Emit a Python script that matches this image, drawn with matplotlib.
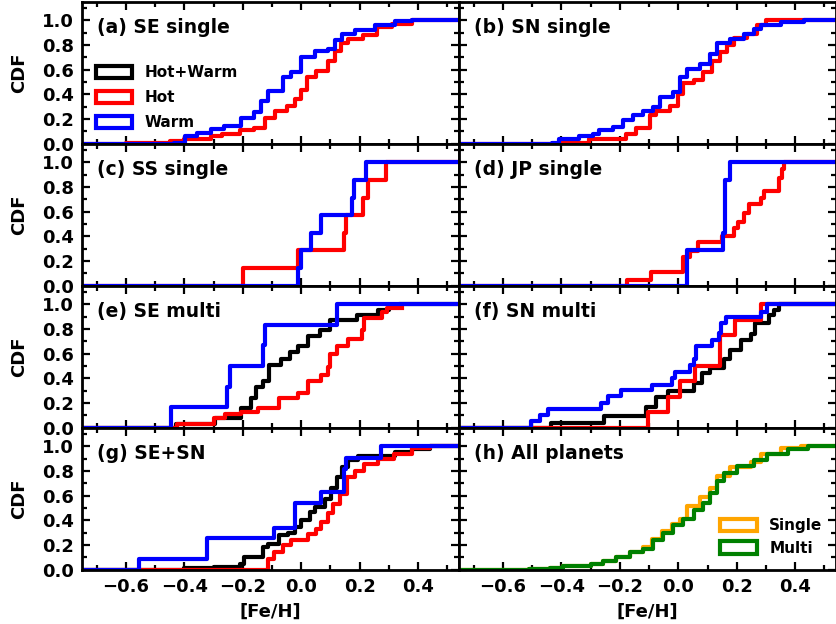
import matplotlib
matplotlib.use("Agg")
import matplotlib.pyplot as plt
from matplotlib.patches import Patch
from matplotlib.ticker import MultipleLocator

plt.rcParams['font.family'] = ['DejaVu Sans']
plt.rcParams['font.weight'] = 'bold'
plt.rcParams['axes.labelweight'] = 'bold'
plt.rcParams['font.size'] = 13

# ---- data: step positions ([Fe/H]) and CDF value after each step ----
# (a) SE single
a_hot_x = [-0.60, -0.45, -0.40, -0.31, -0.27, -0.21, -0.16, -0.125, -0.09, -0.05, -0.02, 0.00, 0.02, 0.05, 0.09, 0.115, 0.135, 0.16, 0.21, 0.26, 0.31, 0.38]
a_hot_y = [0.005, 0.02, 0.04, 0.06, 0.08, 0.11, 0.13, 0.21, 0.27, 0.31, 0.36, 0.44, 0.54, 0.59, 0.67, 0.75, 0.82, 0.85, 0.88, 0.95, 0.97, 1.0]
a_warm_x = [-0.437, -0.397, -0.356, -0.31, -0.264, -0.207, -0.161, -0.138, -0.115, -0.063, -0.034, 0.0, 0.046, 0.092, 0.115, 0.138, 0.184, 0.253, 0.322, 0.38]
a_warm_y = [0.01, 0.065, 0.09, 0.12, 0.146, 0.21, 0.255, 0.35, 0.43, 0.54, 0.58, 0.70, 0.75, 0.77, 0.84, 0.89, 0.92, 0.96, 0.995, 1.0]

# (b) SN single
b_hot_x = [-0.397, -0.305, -0.178, -0.144, -0.098, -0.075, -0.029, 0.0, 0.017, 0.052, 0.086, 0.115, 0.144, 0.167, 0.19, 0.236, 0.27, 0.299]
b_hot_y = [0.01, 0.04, 0.08, 0.13, 0.23, 0.27, 0.31, 0.40, 0.49, 0.52, 0.58, 0.67, 0.74, 0.80, 0.86, 0.89, 0.96, 1.0]
b_warm_x = [-0.431, -0.408, -0.339, -0.293, -0.27, -0.224, -0.19, -0.155, -0.121, -0.086, -0.063, -0.017, 0.006, 0.029, 0.075, 0.11, 0.132, 0.178, 0.224, 0.259, 0.282, 0.351, 0.431]
b_warm_y = [0.01, 0.04, 0.06, 0.08, 0.11, 0.14, 0.19, 0.23, 0.27, 0.30, 0.38, 0.42, 0.54, 0.61, 0.65, 0.73, 0.82, 0.85, 0.89, 0.93, 0.96, 0.985, 1.0]

# (c) SS single
c_hot_x = [-0.20, -0.01, 0.145, 0.152, 0.21, 0.23, 0.29]
c_hot_y = [0.143, 0.286, 0.429, 0.571, 0.714, 0.857, 1.0]
c_warm_x = [-0.012, -0.002, 0.032, 0.069, 0.172, 0.182, 0.22]
c_warm_y = [0.143, 0.286, 0.429, 0.571, 0.714, 0.857, 1.0]

# (d) JP single
d_hot_x = [-0.176, -0.092, 0.017, 0.04, 0.069, 0.149, 0.19, 0.205, 0.224, 0.241, 0.282, 0.293, 0.345, 0.356, 0.36]
d_hot_y = [0.05, 0.11, 0.23, 0.28, 0.355, 0.40, 0.47, 0.52, 0.59, 0.66, 0.71, 0.77, 0.87, 0.95, 1.0]
d_warm_x = [0.029, 0.153, 0.16, 0.178]
d_warm_y = [0.286, 0.429, 0.857, 1.0]

# (e) SE multi
e_all_x = [-0.43, -0.295, -0.207, -0.172, -0.155, -0.132, -0.109, -0.069, -0.04, -0.011, 0.023, 0.063, 0.098, 0.19, 0.264, 0.30, 0.335]
e_all_y = [0.03, 0.08, 0.16, 0.245, 0.33, 0.38, 0.505, 0.56, 0.61, 0.66, 0.74, 0.79, 0.87, 0.915, 0.95, 0.975, 1.0]
e_hot_x = [-0.425, -0.30, -0.26, -0.207, -0.149, -0.075, -0.011, 0.023, 0.069, 0.092, 0.10, 0.121, 0.161, 0.207, 0.213, 0.276, 0.293, 0.345]
e_hot_y = [0.033, 0.077, 0.115, 0.13, 0.16, 0.245, 0.28, 0.38, 0.43, 0.49, 0.60, 0.66, 0.72, 0.79, 0.89, 0.94, 0.97, 0.97]
e_warm_x = [-0.445, -0.253, -0.245, -0.132, -0.125, 0.121]
e_warm_y = [0.167, 0.333, 0.50, 0.667, 0.833, 1.0]

# (f) SN multi
f_all_x = [-0.437, -0.253, -0.109, -0.078, -0.034, 0.052, 0.08, 0.11, 0.155, 0.178, 0.213, 0.247, 0.264, 0.31, 0.328, 0.345]
f_all_y = [0.04, 0.095, 0.165, 0.25, 0.30, 0.36, 0.44, 0.48, 0.56, 0.63, 0.71, 0.76, 0.85, 0.915, 0.955, 1.0]
f_hot_x = [-0.103, -0.034, 0.006, 0.057, 0.144, 0.195, 0.282]
f_hot_y = [0.125, 0.25, 0.375, 0.50, 0.75, 0.875, 1.0]
f_warm_x = [-0.503, -0.474, -0.445, -0.264, -0.241, -0.195, -0.091, -0.022, -0.01, 0.04, 0.055, 0.061, 0.115, 0.138, 0.147, 0.164, 0.282, 0.305]
f_warm_y = [0.055, 0.10, 0.15, 0.20, 0.26, 0.305, 0.35, 0.40, 0.45, 0.505, 0.56, 0.66, 0.71, 0.77, 0.85, 0.90, 0.94, 1.0]

# (g) SE+SN
g_all_x = [-0.40, -0.30, -0.21, -0.195, -0.132, -0.115, -0.075, -0.046, -0.023, 0.0, 0.029, 0.046, 0.08, 0.103, 0.121, 0.138, 0.161, 0.195, 0.322, 0.38, 0.44]
g_all_y = [0.01, 0.025, 0.05, 0.10, 0.18, 0.21, 0.28, 0.30, 0.35, 0.40, 0.47, 0.51, 0.57, 0.66, 0.75, 0.83, 0.885, 0.925, 0.95, 0.98, 1.0]
g_hot_x = [-0.113, -0.092, -0.063, -0.034, 0.023, 0.052, 0.069, 0.092, 0.109, 0.132, 0.155, 0.184, 0.213, 0.264, 0.316, 0.38, 0.44]
g_hot_y = [0.09, 0.14, 0.20, 0.24, 0.29, 0.33, 0.39, 0.46, 0.53, 0.61, 0.75, 0.80, 0.857, 0.90, 0.94, 0.99, 1.0]
g_warm_x = [-0.555, -0.322, -0.092, -0.023, 0.069, 0.147, 0.152, 0.273]
g_warm_y = [0.09, 0.256, 0.34, 0.54, 0.63, 0.815, 0.906, 1.0]

# (h) all planets
h_single_x = [-0.51, -0.44, -0.394, -0.30, -0.259, -0.213, -0.167, -0.121, -0.09, -0.055, -0.02, 0.006, 0.029, 0.075, 0.11, 0.132, 0.178, 0.247, 0.282, 0.351, 0.42]
h_single_y = [0.005, 0.016, 0.03, 0.05, 0.07, 0.10, 0.14, 0.18, 0.25, 0.31, 0.37, 0.41, 0.52, 0.59, 0.66, 0.76, 0.83, 0.875, 0.94, 0.985, 1.0]
h_multi_x = [-0.51, -0.44, -0.394, -0.30, -0.259, -0.213, -0.167, -0.121, -0.086, -0.052, -0.017, 0.017, 0.052, 0.086, 0.11, 0.132, 0.155, 0.201, 0.259, 0.305, 0.374, 0.443]
h_multi_y = [0.005, 0.016, 0.03, 0.05, 0.07, 0.10, 0.14, 0.17, 0.24, 0.30, 0.36, 0.41, 0.48, 0.54, 0.62, 0.72, 0.78, 0.84, 0.885, 0.94, 0.98, 1.0]

labels = ['(a) SE single', '(b) SN single', '(c) SS single', '(d) JP single',
          '(e) SE multi', '(f) SN multi', '(g) SE+SN', '(h) All planets']

panels = [
    [('red', a_hot_x, a_hot_y), ('blue', a_warm_x, a_warm_y)],
    [('red', b_hot_x, b_hot_y), ('blue', b_warm_x, b_warm_y)],
    [('red', c_hot_x, c_hot_y), ('blue', c_warm_x, c_warm_y)],
    [('red', d_hot_x, d_hot_y), ('blue', d_warm_x, d_warm_y)],
    [('black', e_all_x, e_all_y), ('red', e_hot_x, e_hot_y), ('blue', e_warm_x, e_warm_y)],
    [('black', f_all_x, f_all_y), ('red', f_hot_x, f_hot_y), ('blue', f_warm_x, f_warm_y)],
    [('black', g_all_x, g_all_y), ('red', g_hot_x, g_hot_y), ('blue', g_warm_x, g_warm_y)],
    [('orange', h_single_x, h_single_y), ('green', h_multi_x, h_multi_y)],
]

xmin, xmax = -0.75, 0.54


def draw_cdf(ax, color, xs, ys):
    # pad with zero on the left; run on to the right edge once the CDF hits 1
    px = [xmin - 0.1] + list(xs)
    py = [0.0] + list(ys)
    if ys[-1] >= 1.0:
        px.append(xmax + 0.1)
        py.append(ys[-1])
    ax.step(px, py, where='post', color=color, lw=3)


fig, axes = plt.subplots(4, 2, sharex=True, sharey=True, figsize=(8.37, 6.24), dpi=100)
fig.subplots_adjust(left=0.098, right=0.999, top=0.997, bottom=0.087, wspace=0, hspace=0)

for i, ax in enumerate(axes.flat):
    for color, xs, ys in panels[i]:
        draw_cdf(ax, color, xs, ys)
    ax.text(0.04, 0.82, labels[i], transform=ax.transAxes, fontsize=13.5,
            fontweight='bold', va='center', ha='left')
    ax.set_xlim(xmin, xmax)
    ax.set_ylim(0, 1.15)
    ax.xaxis.set_major_locator(MultipleLocator(0.2))
    ax.xaxis.set_minor_locator(MultipleLocator(0.1))
    ax.yaxis.set_major_locator(MultipleLocator(0.2))
    ax.yaxis.set_minor_locator(MultipleLocator(0.1))
    ax.tick_params(which='both', direction='in', top=True, right=True, width=1.6)
    ax.tick_params(which='major', length=6, labelsize=13, pad=6)
    ax.tick_params(which='minor', length=3.5)
    for sp in ax.spines.values():
        sp.set_linewidth(2)
    if i % 2 == 0:
        ax.set_ylabel('CDF', fontsize=13)
        ax.yaxis.set_label_coords(-0.144, 0.5)
    if i >= 6:
        ax.set_xlabel('[Fe/H]', fontsize=13)
        ax.xaxis.set_label_coords(0.5, -0.23)

h1 = [Patch(facecolor='white', edgecolor='black', lw=3, label='Hot+Warm'),
      Patch(facecolor='white', edgecolor='red', lw=3, label='Hot'),
      Patch(facecolor='white', edgecolor='blue', lw=3, label='Warm')]
axes[0, 0].legend(handles=h1, loc='center left', bbox_to_anchor=(0.0, 0.325),
                  frameon=False, prop={'size': 11, 'weight': 'bold'},
                  handlelength=2.4, handleheight=0.9, labelspacing=0.65)

h2 = [Patch(facecolor='white', edgecolor='orange', lw=3, label='Single'),
      Patch(facecolor='white', edgecolor='green', lw=3, label='Multi')]
axes[3, 1].legend(handles=h2, loc='lower right', frameon=False,
                  prop={'size': 11, 'weight': 'bold'},
                  handlelength=2.4, handleheight=0.9, labelspacing=0.5)

fig.savefig('out.png', dpi=100)
